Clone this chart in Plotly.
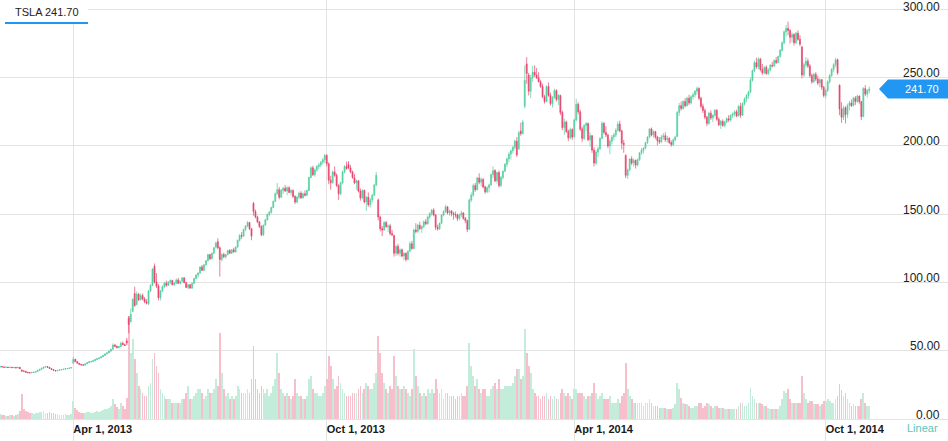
import pandas as pd
import plotly.graph_objects as go

# ---------------- data ----------------
HOLIDAYS = ["2013-02-18", "2013-03-29", "2013-05-27", "2013-07-04", "2013-09-02", "2013-11-28",
            "2013-12-25", "2014-01-01", "2014-01-20", "2014-02-17", "2014-04-18", "2014-05-26",
            "2014-07-04", "2014-09-01", "2014-11-27", "2014-12-25"]

TICK_DATES = ["2013-04-01", "2013-10-01", "2014-04-01", "2014-10-01"]
TICK_TEXT = ["Apr 1, 2013", "Oct 1, 2013", "Apr 1, 2014", "Oct 1, 2014"]
PRICE_TICKS = [0, 50, 100, 150, 200, 250, 300]
SYMBOL = "TSLA"
LAST_PRICE = 241.70

# daily rows per month: (open, high, low, close, volume in millions)
feb_2013 = [(37.8,38.4,37.5,38.2,1.5),(38.2,38.6,37.9,38.3,1.3),(38.3,38.9,38.0,38.6,1.5),(38.6,38.8,38.1,38.3,1.2),(38.3,38.6,37.8,38.0,1.4),
            (38.0,38.5,37.7,38.2,1.1),(38.2,38.4,37.7,37.9,1.0),(37.9,38.3,37.6,38.1,1.2),(38.1,38.4,37.7,37.8,1.3),(37.8,38.2,37.4,38.0,1.1),
            (38.0,38.3,37.5,37.6,1.4),(37.6,38.2,37.4,38.0,1.5),(38.0,38.3,36.9,37.0,2.5),(36.0,36.6,34.8,35.3,7.5),(35.3,35.8,34.9,35.1,3.0),
            (35.1,35.4,34.2,34.4,2.5),(34.4,34.8,33.8,34.1,2.2),(34.1,34.5,33.6,34.0,2.0),(34.0,34.6,33.8,34.3,1.8)]
mar_2013 = [(34.3,34.8,33.9,34.4,1.6),(34.4,35.2,34.2,35.0,1.8),(35.0,36.0,34.9,35.8,2.0),(35.8,36.8,35.6,36.6,2.2),(36.6,37.6,36.4,37.4,2.1),
            (37.4,38.4,37.2,38.2,2.4),(38.2,38.9,37.9,38.6,2.0),(38.6,38.9,37.8,38.0,1.8),(38.0,38.2,37.0,37.2,2.2),(37.2,37.4,36.2,36.4,1.9),
            (36.4,36.6,35.6,35.8,2.0),(35.8,36.0,35.1,35.4,1.7),(35.4,36.0,35.2,35.8,1.5),(35.8,36.4,35.6,36.2,1.4),(36.2,36.6,35.9,36.4,1.3),
            (36.4,36.9,36.2,36.7,1.4),(36.7,37.2,36.5,37.0,1.5),(37.0,37.4,36.8,37.2,1.3),(37.2,37.7,37.0,37.5,1.4),(37.5,38.1,37.3,37.9,1.6)]
apr_2013 = [(41.0,45.6,40.8,43.9,5.5),(43.9,44.2,42.0,42.2,3.5),(42.2,42.5,40.8,41.0,2.8),(41.0,41.3,40.0,40.2,2.2),(40.2,40.6,39.5,39.8,2.0),
            (39.8,40.3,39.4,39.6,1.8),(39.6,40.8,39.5,40.6,1.9),(40.6,41.8,40.4,41.5,2.1),(41.5,42.4,41.2,42.1,2.2),(42.1,42.6,41.6,42.4,1.9),
            (42.4,43.2,42.0,42.9,2.0),(42.9,44.0,42.7,43.8,2.3),(43.8,44.6,43.3,44.4,2.4),(44.4,45.2,44.0,44.9,2.2),(44.9,46.0,44.6,45.8,2.6),
            (45.8,47.0,45.5,46.7,2.8),(46.7,48.1,46.4,47.8,3.0),(47.8,49.0,47.4,48.6,3.2),(48.6,50.2,48.3,49.9,3.5),(49.9,51.6,49.5,51.2,4.0),
            (51.2,55.6,51.0,54.3,6.0),(54.3,55.0,52.9,53.4,4.5)]
may_2013 = [(53.4,54.0,52.0,52.4,3.8),(52.4,53.5,52.0,53.2,3.0),(53.2,56.8,53.0,55.6,5.0),(55.6,57.0,54.2,54.6,4.0),(54.6,55.5,53.6,54.0,3.2),
            (57.5,59.5,54.2,55.8,6.5),(74.0,75.5,63.0,69.4,31),(71.5,81.0,71.0,76.8,20),(79.0,88.5,78.5,87.8,24),(92.0,97.0,82.4,83.2,18),
            (84.0,93.5,83.5,91.5,14),(91.5,92.5,86.5,87.5,10),(87.5,92.0,87.0,90.5,9),(90.5,92.0,87.0,88.0,8),(88.0,89.5,85.0,86.0,7),
            (86.0,88.0,84.0,85.0,7),(84.5,94.5,83.5,94.0,10),(94.0,99.0,93.0,98.0,11),(98.0,110.5,97.5,110.0,18),(112.0,114.0,99.5,100.5,20),
            (100.5,107.0,96.0,97.5,16),(97.5,99.0,87.0,89.0,14)]
jun_2013 = [(89.0,94.5,87.0,94.0,9),(94.0,98.0,93.0,97.0,8),(97.0,100.5,96.0,99.5,7),(99.5,101.5,97.0,98.0,6),(98.0,101.0,97.5,100.5,6),
            (100.5,102.5,99.0,101.5,6),(101.5,102.0,98.0,98.5,5),(98.5,100.5,97.5,99.5,5),(99.5,103.0,99.0,102.0,5),(102.0,103.5,99.0,99.5,5),
            (99.5,101.5,98.5,101.0,5),(101.0,104.0,100.5,103.5,6),(103.5,104.0,99.5,100.0,6),(100.0,100.5,96.0,96.5,8),(96.5,99.0,95.0,98.5,10),
            (98.5,99.0,95.5,96.0,6),(96.0,100.0,95.5,99.5,6),(99.5,103.5,99.0,103.0,7),(103.0,106.0,102.5,105.5,8),(105.5,107.5,103.5,107.0,9)]
jul_2013 = [(107.0,112.0,106.5,111.5,9),(111.5,113.0,108.5,109.0,8),(109.0,113.5,108.5,113.0,6),(113.0,116.5,112.5,116.0,7),(116.0,121.0,115.5,120.5,9),
            (120.5,121.0,116.5,117.5,8),(117.5,122.0,117.0,121.5,8),(121.5,126.0,121.0,125.5,9),(126.0,130.0,125.0,129.0,12),(130.0,132.5,124.5,125.5,10),
            (125.5,126.5,104.5,117.0,26),(117.0,121.5,115.5,120.5,14),(120.5,122.0,118.0,119.0,9),(119.0,121.0,117.5,120.5,7),(120.5,124.0,120.0,123.5,8),
            (123.5,124.5,121.0,121.5,6),(121.5,124.5,121.0,124.0,7),(124.0,125.5,122.0,122.5,6),(122.5,126.5,122.0,126.0,7),(126.0,131.5,125.5,131.0,10),
            (131.0,135.5,130.0,134.5,9),(134.5,137.0,132.0,134.0,8)]
aug_2013 = [(134.0,139.5,133.5,139.0,8),(139.0,142.0,137.5,141.5,8),(141.5,145.0,140.5,144.0,9),(144.0,144.5,138.5,139.5,8),(139.5,140.0,131.0,134.0,12),
            (158.0,159.0,149.0,152.0,22),(152.0,153.5,147.0,148.0,12),(148.0,149.0,143.5,144.5,9),(144.5,145.0,140.0,141.0,8),(141.0,142.0,134.0,135.0,10),
            (135.0,142.5,134.0,142.0,9),(142.0,146.5,141.5,146.0,8),(146.0,150.5,145.5,150.0,9),(150.0,152.5,148.5,151.5,7),(151.5,155.5,150.5,155.0,8),
            (155.0,160.0,154.5,159.5,10),(159.5,166.0,159.0,165.0,12),(165.0,173.0,164.5,168.0,20),(168.0,170.0,161.0,162.5,14),(162.5,168.5,162.0,167.5,9),
            (167.5,170.0,165.0,169.0,8),(169.0,171.5,166.5,167.0,7)]
sep_2013 = [(167.0,170.5,164.0,169.5,8),(169.5,170.5,165.5,166.0,7),(166.0,168.5,164.0,167.5,6),(167.5,168.0,162.0,163.0,7),(163.0,164.0,157.5,159.0,12),
            (159.0,163.5,158.0,162.5,8),(162.5,166.5,161.0,165.5,7),(165.5,167.0,161.5,162.0,7),(162.0,166.0,161.5,165.0,6),(165.0,167.5,163.0,164.0,6),
            (164.0,168.0,163.5,167.5,7),(167.5,177.5,167.0,177.0,12),(177.0,185.0,176.5,184.0,13),(184.0,185.5,178.0,179.0,9),(179.0,183.5,177.5,182.5,8),
            (182.5,186.0,181.0,185.0,8),(185.0,187.5,183.0,186.0,7),(186.0,189.0,184.5,188.0,7),(188.0,191.0,186.5,190.0,8),(190.0,194.0,187.5,193.0,10)]
oct_2013 = [(193.0,194.0,185.0,187.0,12),(187.0,188.0,172.0,175.0,19),(175.0,178.0,168.0,173.0,16),(173.0,182.0,172.5,181.0,12),(181.0,185.0,177.5,178.5,9),
            (178.5,180.0,170.0,171.0,10),(171.0,172.0,160.5,165.0,13),(165.0,174.0,164.0,173.0,11),(173.0,182.0,172.0,181.0,9),(181.0,186.0,180.0,185.0,8),
            (185.0,188.5,182.5,183.5,7),(186.5,189.0,183.0,184.0,7),(184.0,186.0,180.0,181.0,7),(181.0,182.0,176.0,177.0,8),(177.0,179.5,172.0,173.0,8),
            (173.0,175.5,168.0,174.5,8),(174.5,175.0,166.0,167.0,9),(167.0,169.0,160.0,162.0,10),(162.0,168.5,161.0,167.5,8),(167.5,168.0,158.0,159.0,9),
            (159.0,163.5,152.5,162.5,11),(162.5,166.0,155.5,157.0,10),(157.0,162.0,155.0,160.5,9)]
nov_2013 = [(160.5,165.0,158.5,164.0,9),(164.0,172.0,163.5,171.5,11),(171.5,181.0,170.5,178.5,14),(160.5,161.5,145.5,148.0,25),(148.0,149.0,137.5,139.5,20),
            (139.5,141.5,134.0,138.5,14),(138.5,145.0,138.0,144.0,11),(144.0,145.0,140.0,141.0,9),(141.0,142.5,137.0,141.5,8),(141.5,143.0,134.5,136.0,10),
            (136.0,138.5,134.0,135.0,9),(134.5,135.0,119.0,121.5,19),(121.5,127.5,119.5,126.5,13),(126.5,128.5,120.0,121.5,10),(121.5,125.0,119.0,124.0,9),
            (124.0,125.0,118.5,119.5,9),(119.5,122.0,116.5,121.5,10),(121.5,122.0,115.5,117.0,9),(117.0,123.5,116.5,123.0,8),(123.0,130.0,122.5,128.5,7)]
dec_2013 = [(128.5,130.5,124.0,125.0,9),(125.0,139.5,124.5,138.5,21),(138.5,143.5,136.0,137.5,13),(137.5,143.0,136.5,142.0,10),(142.0,144.5,138.5,139.5,8),
            (139.5,142.0,136.5,141.0,7),(141.0,145.5,140.0,144.5,8),(144.5,146.5,142.0,143.0,7),(143.0,149.0,142.5,148.0,9),(148.0,151.5,146.5,150.5,8),
            (150.5,154.0,149.0,153.0,9),(153.0,154.5,148.5,149.5,8),(149.5,150.0,138.5,140.5,12),(140.5,142.5,138.0,139.5,9),(139.5,144.0,138.5,143.5,8),
            (143.5,150.0,143.0,149.5,9),(149.5,153.0,148.5,152.0,6),(152.0,157.0,151.0,155.5,8),(155.5,156.0,150.0,151.0,8),(151.0,153.5,149.0,152.5,7),
            (152.5,153.0,148.5,150.5,7)]
jan_2014 = [(150.5,152.0,146.0,150.0,7),(150.0,152.0,147.5,149.5,6),(149.5,150.5,145.0,147.0,7),(147.0,150.5,145.5,149.5,7),(149.5,152.5,148.0,151.0,8),
            (151.0,151.5,146.0,147.0,7),(147.0,148.0,143.5,145.5,7),(145.5,146.0,137.0,139.0,10),(139.0,161.5,138.5,160.5,23),(160.5,166.0,159.0,164.0,16),
            (164.0,172.5,163.0,171.0,13),(171.0,173.0,166.5,168.0,10),(168.0,177.5,167.5,176.5,12),(176.5,180.0,172.0,173.5,9),(173.5,177.0,170.5,175.5,8),
            (175.5,176.5,169.0,170.0,9),(170.0,171.0,165.0,166.5,9),(166.5,170.5,165.5,169.5,7),(169.5,172.5,166.0,171.5,7),(171.5,180.0,171.0,179.0,9),
            (179.0,185.0,176.5,182.0,10)]
feb_2014 = [(182.0,183.0,173.5,174.5,11),(174.5,181.0,172.5,180.5,9),(180.5,182.0,169.5,171.0,12),(171.0,178.0,170.0,177.0,9),(177.0,182.0,175.5,181.5,9),
            (181.5,187.5,181.0,186.5,10),(186.5,191.5,184.5,190.5,10),(190.5,195.5,188.0,194.0,10),(194.0,197.0,190.0,196.5,10),(196.5,200.0,194.5,199.0,11),
            (199.0,204.5,197.5,203.5,13),(203.5,206.5,192.0,193.5,15),(198.0,211.0,197.0,209.5,15),(211.0,217.0,207.5,209.0,12),(209.0,219.0,208.5,217.5,13),
            (229.0,259.0,227.5,248.0,27),(260.0,265.0,245.5,253.0,20),(252.0,253.5,237.0,240.0,16),(240.0,252.0,235.0,250.0,14)]
mar_2014 = [(250.0,258.5,247.0,254.0,9),(254.0,259.0,250.5,252.0,8),(252.0,257.0,249.0,250.0,7),(250.0,254.0,246.5,247.0,7),(247.0,248.5,242.5,243.5,6),
            (243.5,245.5,235.0,236.0,7),(236.0,237.5,231.0,232.5,7),(232.5,244.5,232.0,243.5,8),(243.5,246.5,236.0,237.0,6),(237.0,239.0,229.5,231.0,7),
            (231.0,236.5,228.0,235.5,6),(235.5,242.0,234.5,240.5,7),(240.5,241.5,232.5,234.0,6),(234.0,238.0,230.0,237.0,6),(237.0,237.5,222.5,224.5,8),
            (224.5,226.0,211.5,213.5,9),(213.5,220.0,208.0,217.5,8),(217.5,218.5,209.5,210.5,7),(210.5,212.0,203.5,206.0,8),(206.0,213.5,205.0,212.0,7),
            (212.0,213.0,204.5,206.5,6)]
apr_2014 = [(207.0,220.0,206.0,219.0,9),(219.0,234.5,218.0,230.5,9),(230.5,232.0,223.0,225.0,8),(225.0,226.5,211.0,212.5,8),(212.5,214.0,203.0,205.5,8),
            (205.5,216.0,204.5,215.0,7),(215.0,217.5,211.0,216.5,6),(216.5,217.0,203.5,204.5,7),(204.5,210.0,199.5,207.5,7),(207.5,208.0,195.0,197.0,8),
            (197.0,199.0,185.0,187.5,11),(187.5,197.0,186.0,195.5,8),(195.5,199.5,192.0,198.0,6),(198.0,206.5,197.0,205.5,7),(205.5,218.0,205.0,216.5,8),
            (216.5,217.5,208.5,210.0,6),(210.0,214.5,206.5,208.0,6),(208.0,209.0,198.5,200.0,6),(200.0,205.0,194.0,203.5,7),(203.5,208.0,201.0,206.5,5),
            (206.5,209.5,204.0,208.0,5)]
may_2014 = [(208.0,213.0,206.5,211.5,5),(211.5,218.0,210.5,216.0,6),(216.0,218.5,210.0,211.0,5),(211.0,212.0,197.5,202.0,7),(202.0,204.5,195.0,201.0,8),
            (193.0,194.0,176.5,178.5,17),(178.5,183.5,176.0,182.5,9),(182.5,191.0,181.5,190.5,7),(190.5,192.5,186.0,187.5,6),(187.5,191.0,185.0,189.5,5),
            (189.5,190.0,183.5,186.0,5),(186.0,191.0,185.0,190.0,5),(190.0,195.5,189.0,195.0,5),(195.0,198.5,193.5,197.0,5),(197.0,199.0,194.5,198.5,4),
            (198.5,203.0,197.5,202.5,5),(202.5,207.0,201.5,206.5,5),(206.5,213.0,205.5,212.5,6),(212.5,213.5,207.0,208.0,5),(208.0,211.5,206.0,210.5,4),
            (210.5,211.0,205.0,206.5,4)]
jun_2014 = [(206.5,207.5,200.5,204.0,4),(204.0,206.5,201.5,203.0,3.5),(203.0,208.0,202.0,206.5,3.5),(206.5,209.5,204.5,207.5,3.5),(207.5,210.0,203.0,204.5,3.5),
            (204.5,207.5,202.5,205.5,3),(205.5,206.5,201.5,202.5,3),(202.5,204.0,199.5,201.0,3),(201.0,205.5,200.0,204.5,3.5),(204.5,207.5,203.5,206.5,4.5),
            (207.0,225.5,206.5,224.5,11),(224.5,231.5,222.0,229.5,9),(229.5,232.5,226.0,227.5,6.5),(227.5,233.5,226.5,232.5,5),(232.5,235.0,228.0,229.5,4.5),
            (229.5,236.0,229.0,235.0,4.5),(235.0,237.5,230.0,231.5,4),(231.5,237.0,230.5,236.0,3.5),(236.0,239.0,234.0,237.5,3.5),(237.5,241.0,235.5,240.0,4),
            (240.0,243.5,237.5,242.0,4)]
jul_2014 = [(242.0,243.0,233.5,235.0,5),(235.0,236.0,227.5,229.0,5),(229.0,231.0,224.0,226.0,3.5),(226.0,227.5,219.5,221.0,4),(221.0,222.0,214.5,216.5,5),
            (216.5,225.0,215.5,224.0,4.5),(224.0,226.0,219.0,220.5,4),(220.5,223.0,217.5,222.5,3.5),(222.5,227.0,221.5,226.0,4),(226.0,227.0,218.5,219.5,4),
            (219.5,221.0,214.5,215.5,3.5),(215.5,219.0,212.5,218.0,3.5),(218.0,219.5,214.0,215.0,3.5),(215.0,218.5,213.5,217.5,3),(217.5,221.0,216.5,220.0,3),
            (220.0,222.5,217.5,219.0,3),(219.0,223.0,218.0,222.5,3),(222.5,224.5,220.5,223.5,3),(223.5,226.0,221.5,225.0,3),(225.0,226.5,221.0,222.0,3),
            (222.0,230.0,221.5,229.0,4),(229.0,231.5,220.5,222.5,5)]
aug_2014 = [(222.5,232.0,222.0,231.0,5),(231.0,235.5,229.5,234.5,4),(234.5,238.0,232.0,237.0,4),(237.0,240.5,234.5,239.5,5),(239.5,250.0,238.5,248.0,9.5),
            (248.0,256.0,247.0,255.0,7),(255.0,262.5,254.0,261.0,6),(261.0,264.5,256.5,258.0,5),(258.0,265.0,256.0,263.5,5),(263.5,264.5,254.5,256.0,5),
            (256.0,260.0,252.0,253.5,4.5),(253.5,258.5,252.5,257.5,4),(257.5,259.0,252.0,253.0,4),(253.0,257.0,252.0,255.5,3.5),(255.5,260.0,254.5,259.0,3),
            (259.0,261.5,257.5,258.5,3),(258.5,263.5,258.0,262.5,3),(262.5,265.0,260.0,261.0,3),(261.0,266.0,260.5,265.5,3),(265.5,271.0,264.5,270.0,4),
            (270.0,276.5,269.0,275.5,6)]
sep_2014 = [(275.5,284.5,274.5,283.5,8.5),(283.5,288.5,280.0,286.0,8),(286.0,291.0,281.0,284.5,9),(284.5,285.5,275.0,279.5,6),(279.5,283.0,276.0,281.5,5),
            (281.5,282.5,273.5,275.5,5),(275.5,283.5,274.5,282.5,5),(282.5,284.5,277.0,278.0,5),(278.0,281.0,273.0,274.5,5),(272.5,273.0,249.5,252.0,13),
            (252.0,261.0,250.5,259.5,8),(259.5,265.0,257.5,262.0,6),(262.0,264.0,257.0,258.5,5),(258.5,260.0,250.0,251.5,5.5),(251.5,253.0,245.5,247.0,5.5),
            (247.0,253.5,246.0,252.5,4.5),(252.5,254.0,247.5,249.0,4.5),(249.0,251.5,244.5,246.0,4.5),(246.0,249.5,243.0,248.5,4),(248.5,249.0,241.0,243.0,4.5),
            (243.0,244.0,235.5,237.0,5.5)]
oct_2014 = [(237.0,242.0,235.0,240.5,5.5),(240.5,248.0,239.5,247.0,6),(247.0,252.5,245.5,251.5,5.5),(251.5,257.0,250.5,256.0,5),(256.0,260.5,254.0,259.5,5),
            (259.5,264.5,257.5,263.0,6),(263.0,264.0,252.0,253.5,7),(244.5,245.0,222.5,227.0,10.5),(227.0,232.0,217.0,221.0,8.7),(221.0,229.5,219.0,228.0,7),
            (228.0,229.0,216.5,223.0,8),(223.0,231.0,220.5,229.5,6),(229.5,233.0,226.0,231.5,5),(231.5,234.0,228.5,229.5,4),(229.5,236.0,229.0,235.0,4.5),
            (235.0,236.5,230.0,232.5,4),(232.5,237.5,231.5,236.5,4),(236.5,237.0,230.5,232.5,4),(232.5,233.0,219.0,221.5,6),(221.5,243.0,221.0,242.0,8),
            (242.0,244.5,236.5,238.0,5),(238.0,241.5,235.5,240.5,4),(240.5,243.5,238.5,241.7,4)]

MONTHS = [("2013-02", feb_2013), ("2013-03", mar_2013), ("2013-04", apr_2013), ("2013-05", may_2013),
          ("2013-06", jun_2013), ("2013-07", jul_2013), ("2013-08", aug_2013), ("2013-09", sep_2013),
          ("2013-10", oct_2013), ("2013-11", nov_2013), ("2013-12", dec_2013), ("2014-01", jan_2014),
          ("2014-02", feb_2014), ("2014-03", mar_2014), ("2014-04", apr_2014), ("2014-05", may_2014),
          ("2014-06", jun_2014), ("2014-07", jul_2014), ("2014-08", aug_2014), ("2014-09", sep_2014),
          ("2014-10", oct_2014)]

# ---------------- build table ----------------
hol = set(pd.to_datetime(HOLIDAYS))
dates, op, hi, lo, cl, vol = [], [], [], [], [], []
for ym, rows in MONTHS:
    start = pd.Timestamp(ym + "-01")
    days = [d for d in pd.bdate_range(start, start + pd.offsets.MonthEnd(0)) if d not in hol]
    if len(days) != len(rows):
        print("count mismatch", ym, len(days), len(rows))
    for d, r in zip(days, rows):
        dates.append(d)
        op.append(r[0]); hi.append(r[1]); lo.append(r[2]); cl.append(r[3]); vol.append(r[4])

UP = "#52d09f"
DOWN = "#e8436b"
UP_VOL = "#c3ecdb"
DOWN_VOL = "#f7bfcc"
GRID = "#e3e3e3"
BLUE = "#2196f3"
FONT = "Liberation Sans, Arial, sans-serif"

vol_colors = [UP_VOL if c >= o else DOWN_VOL for o, c in zip(op, cl)]

fig = go.Figure()
fig.add_trace(go.Bar(x=dates, y=vol, marker=dict(color=vol_colors, line=dict(width=0)),
                     width=0.38 * 86400000, yaxis="y", hoverinfo="skip", showlegend=False))
fig.add_trace(go.Candlestick(x=dates, open=op, high=hi, low=lo, close=cl, yaxis="y2",
                             increasing=dict(line=dict(color=UP, width=0.7), fillcolor=UP),
                             decreasing=dict(line=dict(color=DOWN, width=0.7), fillcolor=DOWN),
                             whiskerwidth=0, showlegend=False, name=SYMBOL))

fig.update_layout(
    width=948, height=441,
    margin=dict(l=0, r=0, t=0, b=0, autoexpand=False),
    paper_bgcolor="white", plot_bgcolor="white",
    showlegend=False,
    font=dict(family=FONT, size=12, color="#222222"),
    bargap=0,
    xaxis=dict(type="date", range=["2013-02-04 23:30", "2014-12-29 18:30"],
               rangebreaks=[dict(bounds=["sat", "mon"]), dict(values=HOLIDAYS)],
               rangeslider=dict(visible=False),
               tickmode="array", tickvals=TICK_DATES, ticktext=TICK_TEXT,
               ticklabelposition="inside right", ticks="",
               showgrid=True, gridcolor=GRID, gridwidth=1, zeroline=False, showline=False,
               tickfont=dict(size=11, color="#1a1a1a", family=FONT, weight="bold")),
    yaxis=dict(range=[-6.51, 125.9], visible=False, showgrid=False, zeroline=False),
    yaxis2=dict(overlaying="y", side="right", anchor="x", range=[-15.87, 306.8],
                tickmode="array", tickvals=PRICE_TICKS, showticklabels=False, ticks="",
                showgrid=True, gridcolor=GRID, gridwidth=1, zeroline=False, showline=False),
)

# price scale labels, drawn just above their grid lines at the right edge
for p in PRICE_TICKS:
    fig.add_annotation(xref="paper", yref="y2", x=1, y=p, text=f"{p:.2f}", showarrow=False,
                       xanchor="right", yanchor="middle", xshift=-6, yshift=2.3 if p == 300 else 4.5,
                       font=dict(size=12, color="#222222", family=FONT))

# legend-like symbol box top-left
fig.add_shape(type="rect", xref="paper", yref="paper", x0=0, x1=88 / 948, y0=1 - 24 / 441, y1=1,
              fillcolor="white", line=dict(width=0), layer="above")
fig.add_shape(type="rect", xref="paper", yref="paper", x0=5 / 948, x1=88 / 948,
              y0=1 - 24 / 441, y1=1 - 22 / 441, fillcolor=BLUE, line=dict(width=0), layer="above")
fig.add_annotation(xref="paper", yref="paper", x=47 / 948, y=1 - 11.7 / 441, text=f"{SYMBOL} {LAST_PRICE:.2f}",
                   showarrow=False, xanchor="center", yanchor="middle",
                   font=dict(size=11, color="#222222", family=FONT))

# last price marker
fig.add_shape(type="path", xref="paper", xsizemode="pixel", xanchor=1,
              yref="y2", ysizemode="pixel", yanchor=LAST_PRICE,
              path="M -69,0 L -60,-9.5 L 0,-9.5 L 0,9.5 L -60,9.5 Z",
              fillcolor=BLUE, line=dict(width=0), layer="above")
fig.add_annotation(xref="paper", yref="y2", x=1, y=LAST_PRICE, text=f"{LAST_PRICE:.2f}",
                   showarrow=False, xanchor="right", yanchor="middle", xshift=-7,
                   font=dict(size=11, color="white", family=FONT))

# scale mode label
fig.add_annotation(xref="paper", yref="paper", x=922.5 / 948, y=1 - 428.3 / 441, text="Linear",
                   showarrow=False, xanchor="center", yanchor="middle",
                   font=dict(size=11, color="#5cc5b8", family=FONT))

fig.write_html("out.html")
